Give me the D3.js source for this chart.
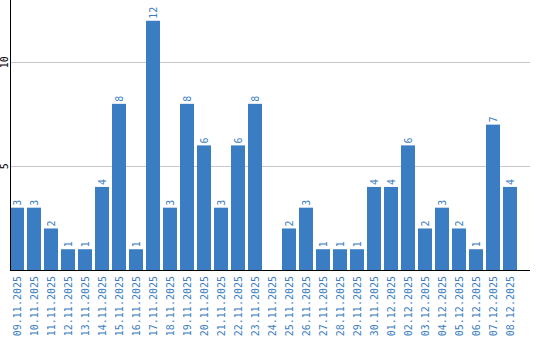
<!DOCTYPE html>
<html>
<head>
<meta charset="utf-8">
<script src="https://cdn.jsdelivr.net/npm/d3@7"></script>
<style>
  body { margin: 0; background: #fff; }
  text { font-family: "DejaVu Sans Mono", "Liberation Mono", monospace; font-size: 10px; }
</style>
</head>
<body>
<svg id="chart"></svg>
<script>
// dates and daily counts
const days = ["09.11.2025","10.11.2025","11.11.2025","12.11.2025","13.11.2025","14.11.2025",
  "15.11.2025","16.11.2025","17.11.2025","18.11.2025","19.11.2025","20.11.2025","21.11.2025",
  "22.11.2025","23.11.2025","24.11.2025","25.11.2025","26.11.2025","27.11.2025","28.11.2025",
  "29.11.2025","30.11.2025","01.12.2025","02.12.2025","03.12.2025","04.12.2025","05.12.2025",
  "06.12.2025","07.12.2025","08.12.2025"];
const counts = [3,3,2,1,1,4,8,1,12,3,8,6,3,6,8,0,2,3,1,1,1,4,4,6,2,3,2,1,7,4];
const yTicks = [5, 10];

const W = 540, H = 340;
const left = 10, right = 530, base = 270;
const blue = "#3a7dc2";

var svg = d3.select("#chart").attr("width", W).attr("height", H);

// band scale: 17px step, 14px bars
var x = d3.scaleBand()
    .domain(days)
    .range([left, 517])
    .paddingInner(3 / 17)
    .paddingOuter(0)
    .align(0);

var y = d3.scaleLinear()
    .domain([0, 13])
    .range([base, 0]);

// gridlines
svg.append("g")
    .selectAll("line")
    .data(yTicks)
    .enter().append("line")
    .attr("x1", left).attr("x2", right)
    .attr("y1", d => Math.round(y(d)) + 0.5)
    .attr("y2", d => Math.round(y(d)) + 0.5)
    .attr("stroke", "#c8c8c8");

// y tick labels, rotated
svg.append("g")
    .selectAll("text")
    .data(yTicks)
    .enter().append("text")
    .attr("transform", d => "translate(8," + y(d) + ") rotate(-90)")
    .attr("text-anchor", "middle")
    .attr("fill", "#000")
    .text(d => d);

// bars
svg.append("g")
    .selectAll("rect")
    .data(counts)
    .enter().append("rect")
    .attr("x", (d, i) => x(days[i]))
    .attr("y", d => y(d))
    .attr("width", x.bandwidth())
    .attr("height", d => base - y(d))
    .attr("fill", blue);

// value labels (skip zero)
svg.selectAll(".val")
    .data(counts.map((c, i) => ({ c: c, day: days[i] })).filter(d => d.c > 0))
    .enter().append("text")
    .attr("class", "val")
    .attr("transform", d => "translate(" + (x(d.day) + x.bandwidth() / 2 + 3.5) + "," + (y(d.c) - 2) + ") rotate(-90)")
    .attr("text-anchor", "start")
    .attr("fill", blue)
    .text(d => d.c);

// axes lines
svg.append("line")
    .attr("x1", left + 0.5).attr("x2", left + 0.5)
    .attr("y1", 0).attr("y2", base)
    .attr("stroke", "#000");
svg.append("line")
    .attr("x1", left).attr("x2", right)
    .attr("y1", base + 0.5).attr("y2", base + 0.5)
    .attr("stroke", "#000");

// date labels
svg.append("g")
    .selectAll("text")
    .data(days)
    .enter().append("text")
    .attr("transform", d => "translate(" + (x(d) + x.bandwidth() / 2 + 3.5) + "," + (base + 6) + ") rotate(-90)")
    .attr("text-anchor", "end")
    .attr("fill", blue)
    .text(d => d);
</script>
</body>
</html>
